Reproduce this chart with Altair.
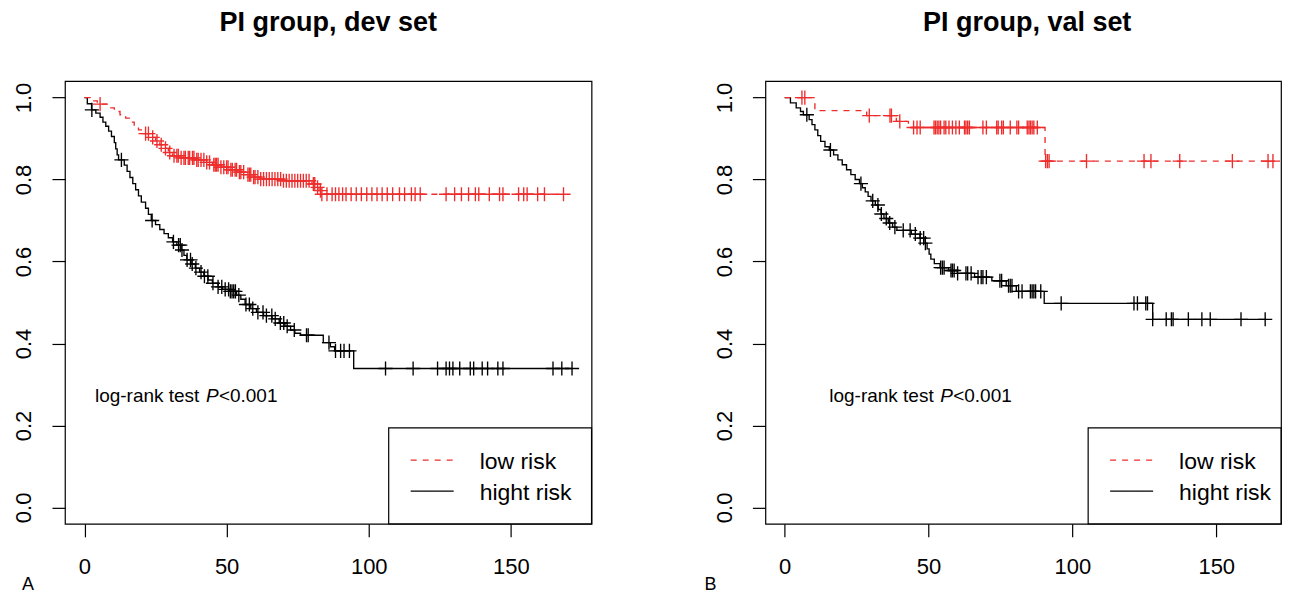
import altair as alt
import numpy as np
import pandas as pd

# ---------------- Panel A: PI group, dev set ----------------
dev_low_time = [0, 2.0, 4.5, 8, 10.5, 12.5, 14.5, 16, 17.5, 19, 21, 23, 25, 26.5, 28, 29.5, 31, 34, 39, 43,
                45, 48, 51, 54, 57, 59, 62, 70, 80, 81.5, 82.5, 83.5]
dev_low_surv = [1.0, 0.992, 0.984, 0.975, 0.966, 0.958, 0.950, 0.940, 0.930, 0.921, 0.912, 0.903, 0.894, 0.885,
                0.876, 0.866, 0.858, 0.853, 0.848, 0.842, 0.836, 0.830, 0.824, 0.818, 0.812, 0.806, 0.801,
                0.797, 0.789, 0.781, 0.773, 0.764]
dev_low_cens = [5.5, 21.5, 22.5, 24, 25.5, 27, 28.5, 30, 31.5, 32.5, 33, 34, 35, 35.5, 36.5, 37, 38, 38.5, 39.5,
                40, 41, 42, 43, 44, 45.5, 46, 46.5, 47, 48, 49, 50, 50.5, 51.5, 52, 53, 53.5, 54.5, 55, 56,
                57.5, 58, 58.5, 59.5, 60, 61, 62, 63, 64, 65, 66, 67, 68, 69, 70, 71, 72, 73, 74, 75, 76, 77,
                78, 79, 80.5, 81, 82, 83, 83.5, 85.3, 87.1, 88.3, 89.5, 90.8, 92.0, 93.8, 95.6, 97.4, 99.3,
                101.1, 102.9, 104.7, 106.5, 108.4, 110.8, 112.6, 115.0, 116.3, 118.1, 127.2, 130.2, 132.6,
                135.1, 137.5, 138.7, 142.4, 146.0, 147.2, 152.7, 154.5, 155.7, 159.4, 161.8, 168.5]

dev_high_time = [0, 1, 2.5, 4, 5.5, 6.5, 7.5, 8.5, 9.5, 10.5, 11, 11.5, 12, 14, 15, 16, 17, 18, 19, 20, 21.5,
                 22.5, 23.5, 25, 26.5, 28, 29.5, 31, 32.5, 34, 35, 36, 37.5, 39, 40.5, 42, 43.5, 45, 47, 48.5,
                 51, 53.5, 55, 56.5, 58.5, 60.5, 63, 66, 68.5, 70.5, 72.5, 74, 76, 84, 86.5, 88, 94.7]
dev_high_surv = [1.0, 0.985, 0.97, 0.962, 0.952, 0.94, 0.93, 0.918, 0.905, 0.89, 0.875, 0.86, 0.848, 0.835,
                 0.82, 0.805, 0.79, 0.775, 0.76, 0.745, 0.73, 0.715, 0.70, 0.69, 0.678, 0.668, 0.658, 0.648,
                 0.64, 0.628, 0.615, 0.604, 0.594, 0.584, 0.574, 0.564, 0.555, 0.547, 0.538, 0.532, 0.527,
                 0.518, 0.508, 0.495, 0.485, 0.476, 0.468, 0.46, 0.45, 0.442, 0.433, 0.425, 0.42, 0.402,
                 0.392, 0.382, 0.339]
dev_high_cens = [2.6, 13, 23.8, 31.3, 33.1, 33.7, 34.3, 36.1, 37.3, 37.9, 39.2, 41.0, 42.2, 43.4, 45.2, 47.0,
                 48.3, 49.5, 50.7, 51.3, 51.9, 52.5, 53.1, 54.3, 56.8, 58.0, 59.2, 61.0, 62.8, 64.0, 65.9,
                 67.1, 68.9, 70.1, 71.3, 73.8, 78.1, 78.7, 86.0, 88.3, 90.1, 91.3, 93.2, 105.9, 115.6, 124.2,
                 127.2, 128.4, 129.6, 132.0, 135.7, 136.9, 139.9, 141.8, 145.4, 147.2, 164.8, 167.9, 171.5]

# ---------------- Panel B: PI group, val set ----------------
val_low_time = [0, 10.5, 28.5, 38.8, 43, 90.5]
val_low_surv = [1.0, 0.968, 0.956, 0.942, 0.927, 0.845]
val_low_cens = [6, 7, 29.4, 36.6, 37.1, 40, 44.8, 46.0, 47.1, 51.9, 52.4, 53.0, 53.6, 54.2, 55.4, 56.0, 57.1,
                58.3, 59.5, 60.7, 62.5, 63.0, 63.6, 64.2, 68.9, 70.1, 73.7, 74.2, 75.4, 76.0, 78.4, 80.7,
                81.3, 84.3, 84.9, 85.4, 86.0, 86.6, 87.8, 90.7, 91.3, 91.9, 104.9, 124.9, 127.3, 137.3,
                155.6, 168.0, 169.7]

val_high_time = [0, 2, 4, 5.5, 6.5, 8.5, 9.5, 10.5, 11.5, 12.5, 14, 15.5, 17, 18.5, 20, 21.5, 23, 24.5, 26,
                 27, 28, 29, 30, 31.5, 32.5, 33.5, 34.5, 36, 37.5, 39, 44, 47, 48.8, 49.5, 50.2, 50.8, 52,
                 54, 57, 60, 66, 72, 77, 80.5, 90.2, 127.9]
val_high_surv = [1.0, 0.987, 0.975, 0.966, 0.958, 0.946, 0.934, 0.921, 0.907, 0.893, 0.88, 0.872, 0.86,
                 0.848, 0.836, 0.824, 0.812, 0.80, 0.79, 0.78, 0.77, 0.759, 0.748, 0.738, 0.727, 0.716,
                 0.705, 0.694, 0.684, 0.676, 0.667, 0.657, 0.645, 0.631, 0.618, 0.606, 0.595, 0.585, 0.578,
                 0.571, 0.562, 0.553, 0.541, 0.527, 0.498, 0.459]
val_high_cens = [7.7, 15.9, 26.5, 30.6, 32.4, 33.6, 35.3, 36.5, 38.3, 41.2, 43.6, 45.4, 47.1, 48.3, 48.9,
                 54.2, 54.8, 55.4, 57.8, 58.3, 58.9, 60.1, 63.0, 63.6, 64.8, 67.2, 68.3, 68.9, 70.1, 74.8,
                 75.4, 77.8, 78.4, 79.0, 81.3, 82.5, 85.4, 86.0, 86.6, 87.2, 89.0, 96.1, 121.4, 122.6, 125.5,
                 126.1, 127.9, 132.6, 134.4, 135.0, 140.3, 145.0, 147.9, 158.6, 167.0]

groups = ["low risk", "hight risk"]
x_ticks = [0, 50, 100, 150]
y_ticks = [0.0, 0.2, 0.4, 0.6, 0.8, 1.0]

RED = "#EE2C2C"
FONT = "Liberation Sans"
PLUS = "M-1,0H1M0,-1V1"


def km_frames(times, surv, cens, group):
    times = np.asarray(times, float)
    surv = np.asarray(surv, float)
    cens = np.asarray(cens, float)
    idx = np.searchsorted(times, cens, side="right") - 1
    end = max(times.max(), cens.max())
    line = pd.DataFrame({"time": np.append(times, end),
                         "surv": np.append(surv, surv[-1]),
                         "group": group})
    pts = pd.DataFrame({"time": cens, "surv": surv[idx], "group": group})
    return line, pts


def panel(title, letter, xdom, width, ann_x, leg_left, title_dx, low, high):
    low_line, low_pts = km_frames(*low, groups[0])
    high_line, high_pts = km_frames(*high, groups[1])
    lines = pd.concat([high_line, low_line])
    pts = pd.concat([high_pts, low_pts])

    x = alt.X("time:Q", scale=alt.Scale(domain=xdom, nice=False, zero=False),
              axis=alt.Axis(values=x_ticks, title=None, labelFlush=False))
    y = alt.Y("surv:Q", scale=alt.Scale(domain=[-0.04, 1.04], nice=False, zero=False),
              axis=alt.Axis(values=y_ticks, format=".1f", title=None, labelFlush=False))
    color = alt.Color("group:N", scale=alt.Scale(domain=groups, range=[RED, "black"]), legend=None)
    dash = alt.StrokeDash("group:N", scale=alt.Scale(domain=groups, range=[[6, 6], [1, 0]]), legend=None)

    line_layer = alt.Chart(lines).mark_line(interpolate="step-after", strokeWidth=1.35).encode(
        x=x, y=y, color=color, strokeDash=dash, detail="group:N")
    pt_layer = alt.Chart(pts).mark_point(shape=PLUS, size=200, filled=False, strokeWidth=1.35,
                                         opacity=1).encode(x=x, y=y, color=color)

    ann = pd.DataFrame({"time": [ann_x], "surv": [0.258]})
    tstyle = dict(align="left", baseline="alphabetic", fontSize=19, font=FONT, color="black")
    t1 = alt.Chart(ann).mark_text(text="log-rank test", **tstyle).encode(x=x, y=y)
    t2 = alt.Chart(ann).mark_text(text="P", dx=111, fontStyle="italic", **tstyle).encode(x=x, y=y)
    t3 = alt.Chart(ann).mark_text(text="<0.001", dx=124, **tstyle).encode(x=x, y=y)

    # legend (bottom right, boxed)
    bl = leg_left
    box = alt.Chart(ann).mark_rect(fill="white", stroke="black", strokeWidth=1.2).encode(
        x=alt.value(bl), x2=alt.value(width), y=alt.value(347), y2=alt.value(443))
    leg_layers = []
    for i, g in enumerate(groups):
        yy = 379.3 + 31 * i
        leg_layers.append(alt.Chart(ann).mark_rule(
            strokeWidth=1.3, color=[RED, "black"][i], strokeDash=[[6, 6], [1, 0]][i]).encode(
            x=alt.value(bl + 22), x2=alt.value(bl + 65), y=alt.value(yy)))
        leg_layers.append(alt.Chart(ann).mark_text(
            text=g, align="left", baseline="middle", fontSize=23, font=FONT, color="black").encode(
            x=alt.value(bl + 91), y=alt.value(yy + 2)))

    lab = alt.Chart(ann).mark_text(text=letter, align="left", baseline="alphabetic", fontSize=18,
                                   font=FONT, color="black").encode(
        x=alt.value(-43 if letter == "A" else -61), y=alt.value(509))

    return alt.layer(line_layer, pt_layer, t1, t2, t3, box, *leg_layers, lab).properties(
        width=width, height=443, title=alt.TitleParams(title, dx=title_dx))


left = panel("PI group, dev set", "A", [-6.86, 178.36], 527, 3.7, 324, 0,
             (dev_low_time, dev_low_surv, dev_low_cens),
             (dev_high_time, dev_high_surv, dev_high_cens))
right = panel("PI group, val set", "B", [-6.7, 172.5], 516, 15.5, 323, 4,
              (val_low_time, val_low_surv, val_low_cens),
              (val_high_time, val_high_surv, val_high_cens))

chart = alt.hconcat(left, right, spacing=174, bounds="flush").resolve_scale(
    x="independent", y="independent"
).properties(
    padding={"left": 4, "top": 0, "right": 0, "bottom": 0}
).configure_view(
    stroke="black", strokeWidth=1.2
).configure_axis(
    domain=False, grid=False, tickColor="black", tickSize=13, tickWidth=1.2,
    labelFont=FONT, labelFontSize=22, labelColor="black"
).configure_axisX(
    labelPadding=20
).configure_axisY(
    labelAngle=270, labelAlign="center", labelBaseline="bottom", labelPadding=16
).configure_title(
    font=FONT, fontSize=27, fontWeight="bold", color="black", offset=44, anchor="middle"
)

chart.save("out.html", embed_options={"renderer": "svg", "actions": False})
